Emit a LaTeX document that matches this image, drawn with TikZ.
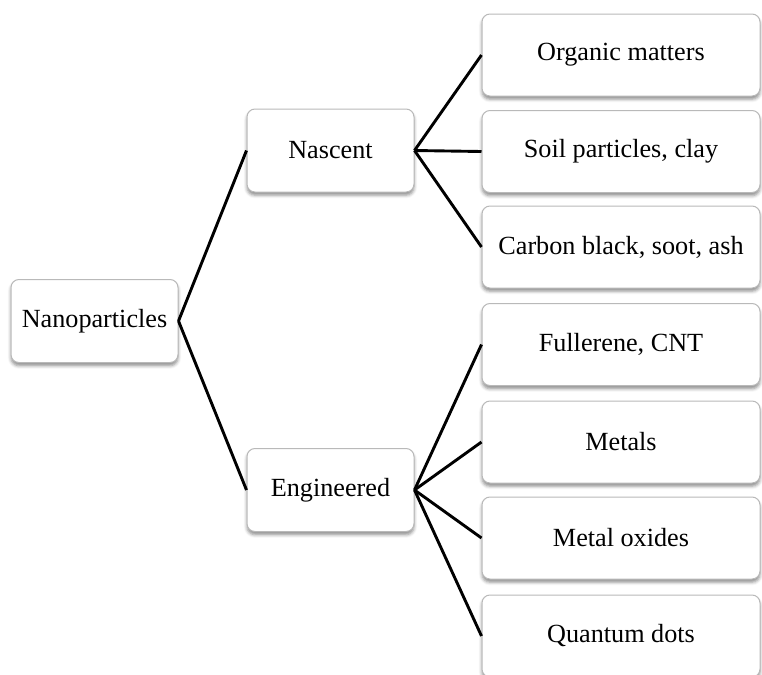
\documentclass[tikz,border=0pt]{standalone}
\usepackage{fontspec}
\setmainfont{Liberation Serif}
\usetikzlibrary{shadows.blur}

\tikzset{
  box/.style={draw=gray!55, line width=0.5pt, rounded corners=4pt, fill=white,
    blur shadow={shadow xshift=0pt, shadow yshift=-1.6pt, shadow blur radius=1.6pt, shadow opacity=45},
    inner sep=0pt, align=center},
  midbox/.style={box, minimum width=83.5pt, minimum height=41.5pt},
  leafbox/.style={box, minimum width=139pt, minimum height=41pt},
  link/.style={line width=1.45pt}
}

\begin{document}
\begin{tikzpicture}[x=0.5pt,y=-0.5pt,font=\fontsize{13.1}{15}\selectfont]
\useasboundingbox (0,0) rectangle (762,675);

%% racine
\node[midbox] (nano) at (94.5,321) {Nanoparticles};

%% niveau 2
\node[midbox] (nasc) at (330.5,150.5) {Nascent};
\node[midbox] (eng) at (330.5,490) {Engineered};

%% feuilles
\foreach \n/\y/\t in {org/55/{Organic matters}, soil/151.5/{Soil particles, clay},
  carb/247/{Carbon black, soot, ash}, full/344.5/{Fullerene, CNT}, met/442/{Metals},
  oxi/538/{Metal oxides}, qd/636/{Quantum dots}}{
  \node[leafbox] (\n) at (621,\y) {\t};
}

%% liens
\draw[link] (nano.east) -- (nasc.west);
\draw[link] (nano.east) -- (eng.west);

\foreach \n in {org,soil,carb}
  \draw[link] (nasc.east) -- (\n.west);

\foreach \n in {full,met,oxi,qd}
  \draw[link] (eng.east) -- (\n.west);

\end{tikzpicture}
\end{document}
